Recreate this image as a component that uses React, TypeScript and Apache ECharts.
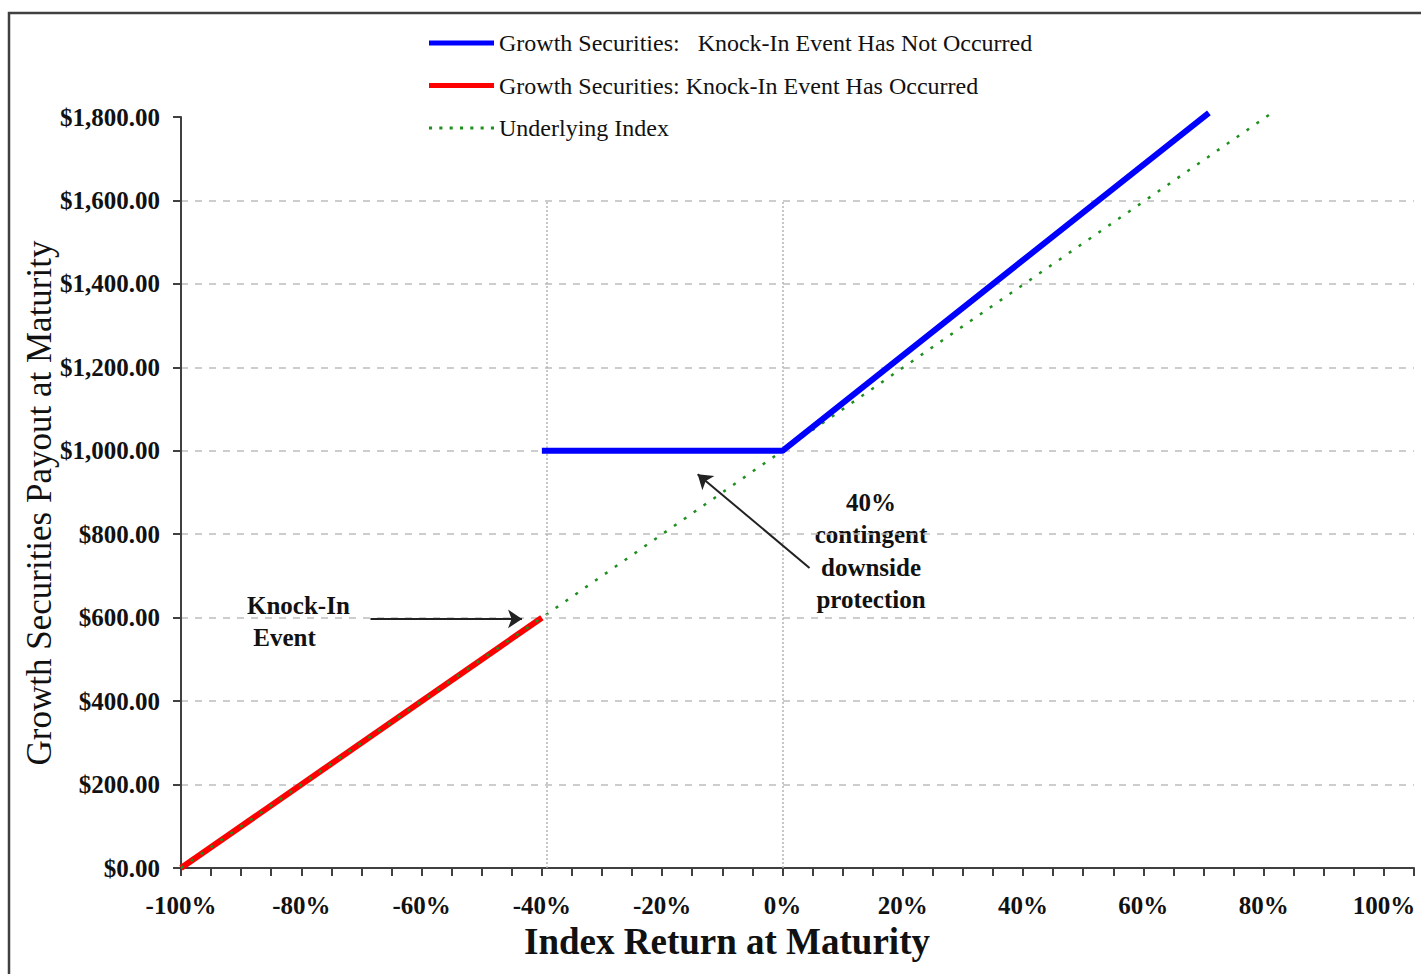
import React, { useEffect, useRef } from 'react';
import * as echarts from 'echarts';

const SERIF = '"Liberation Serif", "Times New Roman", serif';

// Series data (x = index return %, y = payout $)
const notOccurredX = [-40, 0, 70.9];
const notOccurredY = [1000, 1000, 1810];
const occurredX = [-100, -40];
const occurredY = [0, 600];
const indexX = [-100, 0, 81.4];
const indexY = [0, 1000, 1810];

// Reference (vertical dotted) lines
const refLineX = [-39.2, 0];
const refLineTop = 1600;

// Axis settings
const xMin = -100;
const xMax = 105;
const xTickStep = 5;
const xLabelStep = 20;
const yMin = 0;
const yMax = 1800;
const yStep = 200;

// Names
const seriesNames = [
  'Growth Securities:   Knock-In Event Has Not Occurred',
  'Growth Securities: Knock-In Event Has Occurred',
  'Underlying Index',
];

// Annotation arrows [tail, head] in data coords
const knockInArrow = [[-68.5, 597], [-43.3, 597]];
const protectionArrow = [[4.5, 719], [-14.1, 944]];

const zip = (xs: number[], ys: number[]) => xs.map((x, i) => [x, ys[i]]);

const dottedIcon =
  'path://' +
  [0, 1, 2, 3, 4, 5, 6].map((i) => `M${i * 10},0h3v3h-3z`).join(' ');

export default function App() {
  const ref = useRef<HTMLDivElement>(null);
  useEffect(() => {
    const chart = echarts.init(ref.current!, null, { renderer: 'svg' });
    const arrowStyle = { color: '#222', width: 2, type: 'solid' };
    chart.setOption({
      animation: false,
      backgroundColor: '#ffffff',
      textStyle: { fontFamily: SERIF },
      grid: { left: 181, right: 7, top: 117, bottom: 106, containLabel: false },
      legend: {
        data: [
          { name: seriesNames[0], icon: 'rect' },
          { name: seriesNames[1], icon: 'rect' },
          { name: seriesNames[2], icon: dottedIcon },
        ],
        orient: 'vertical',
        left: 424,
        top: 26,
        itemWidth: 65,
        itemHeight: 5,
        itemGap: 18.5,
        symbolKeepAspect: true,
        textStyle: { fontFamily: SERIF, fontSize: 24, color: '#111', lineHeight: 24 },
        selectedMode: false,
      },
      xAxis: {
        type: 'value',
        min: xMin,
        max: xMax,
        interval: xTickStep,
        axisLine: { show: true, onZero: false, lineStyle: { color: '#404040', width: 2 } },
        axisTick: { show: true, inside: false, length: 8, lineStyle: { color: '#404040', width: 2 } },
        axisLabel: {
          margin: 25,
          fontFamily: SERIF,
          fontSize: 25,
          fontWeight: 'bold',
          color: '#111',
          formatter: (v: number) => (Math.round(v) % xLabelStep === 0 && v <= 100 ? `${v}%` : ''),
        },
        splitLine: { show: false },
      },
      yAxis: {
        type: 'value',
        min: yMin,
        max: yMax,
        interval: yStep,
        axisLine: { show: true, onZero: false, lineStyle: { color: '#404040', width: 2 } },
        axisTick: { show: true, inside: false, length: 8, lineStyle: { color: '#404040', width: 2 } },
        axisLabel: {
          margin: 21,
          fontFamily: SERIF,
          fontSize: 25,
          fontWeight: 'bold',
          color: '#111',
          formatter: (v: number) =>
            '$' + v.toLocaleString('en-US', { minimumFractionDigits: 2, maximumFractionDigits: 2 }),
        },
        splitLine: {
          show: true,
          showMinLine: false,
          showMaxLine: false,
          lineStyle: { color: '#bdbdbd', width: 1.5, type: [7, 7] },
        },
      },
      graphic: [
        {
          type: 'rect',
          shape: { x: 9, y: 13, width: 1500, height: 1100 },
          style: { fill: 'none', stroke: '#404040', lineWidth: 2.5 },
          silent: true,
          z: -10,
        },
        {
          type: 'text',
          x: 39,
          y: 503,
          rotation: Math.PI / 2,
          style: {
            text: 'Growth Securities Payout at Maturity',
            fontFamily: SERIF,
            fontSize: 35,
            fontWeight: 'normal',
            fill: '#111',
            align: 'center',
            verticalAlign: 'middle',
          },
        },
        {
          type: 'text',
          x: 727,
          y: 941,
          style: {
            text: 'Index Return at Maturity',
            fontFamily: SERIF,
            fontSize: 37,
            fontWeight: 'bold',
            fill: '#111',
            align: 'center',
            verticalAlign: 'middle',
          },
        },
        {
          type: 'text',
          x: 247,
          y: 589,
          style: {
            text: 'Knock-In\n Event',
            fontFamily: SERIF,
            fontSize: 25,
            fontWeight: 'bold',
            fill: '#111',
            lineHeight: 32,
            align: 'left',
            verticalAlign: 'top',
          },
        },
        {
          type: 'text',
          x: 871,
          y: 551,
          style: {
            text: '40%\ncontingent\ndownside\nprotection',
            fontFamily: SERIF,
            fontSize: 25,
            fontWeight: 'bold',
            fill: '#111',
            lineHeight: 32.5,
            align: 'center',
            verticalAlign: 'middle',
          },
        },
      ],
      series: [
        {
          name: 'refLines',
          type: 'line',
          symbol: 'none',
          silent: true,
          z: 1,
          data: [],
          markLine: {
            silent: true,
            symbol: ['none', 'none'],
            label: { show: false },
            lineStyle: { color: '#b5b5b5', width: 1.5, type: [2, 2] },
            data: refLineX.map((x) => [{ coord: [x, yMin] }, { coord: [x, refLineTop] }]),
          },
        },
        {
          name: seriesNames[1],
          type: 'line',
          symbol: 'none',
          clip: false,
          z: 3,
          lineStyle: { color: '#ff0000', width: 6 },
          itemStyle: { color: '#ff0000' },
          data: zip(occurredX, occurredY),
        },
        {
          name: seriesNames[2],
          type: 'line',
          symbol: 'none',
          clip: false,
          z: 4,
          lineStyle: { color: '#1f8f1f', width: 2.5, type: [3, 9] },
          itemStyle: { color: '#1f8f1f' },
          data: zip(indexX, indexY),
          markLine: {
            silent: true,
            label: { show: false },
            symbol: ['none', 'arrow'],
            symbolSize: 14,
            lineStyle: arrowStyle,
            data: [
              [{ coord: knockInArrow[0] }, { coord: knockInArrow[1] }],
              [{ coord: protectionArrow[0] }, { coord: protectionArrow[1] }],
            ],
          },
        },
        {
          name: seriesNames[0],
          type: 'line',
          symbol: 'none',
          clip: false,
          z: 5,
          lineStyle: { color: '#0000ff', width: 6 },
          itemStyle: { color: '#0000ff' },
          data: zip(notOccurredX, notOccurredY),
        },
      ],
    });
    return () => chart.dispose();
  }, []);
  return (
    <div
      ref={ref}
      style={{ position: 'fixed', left: 0, top: 0, width: 1421, height: 974, background: '#fff' }}
    />
  );
}
